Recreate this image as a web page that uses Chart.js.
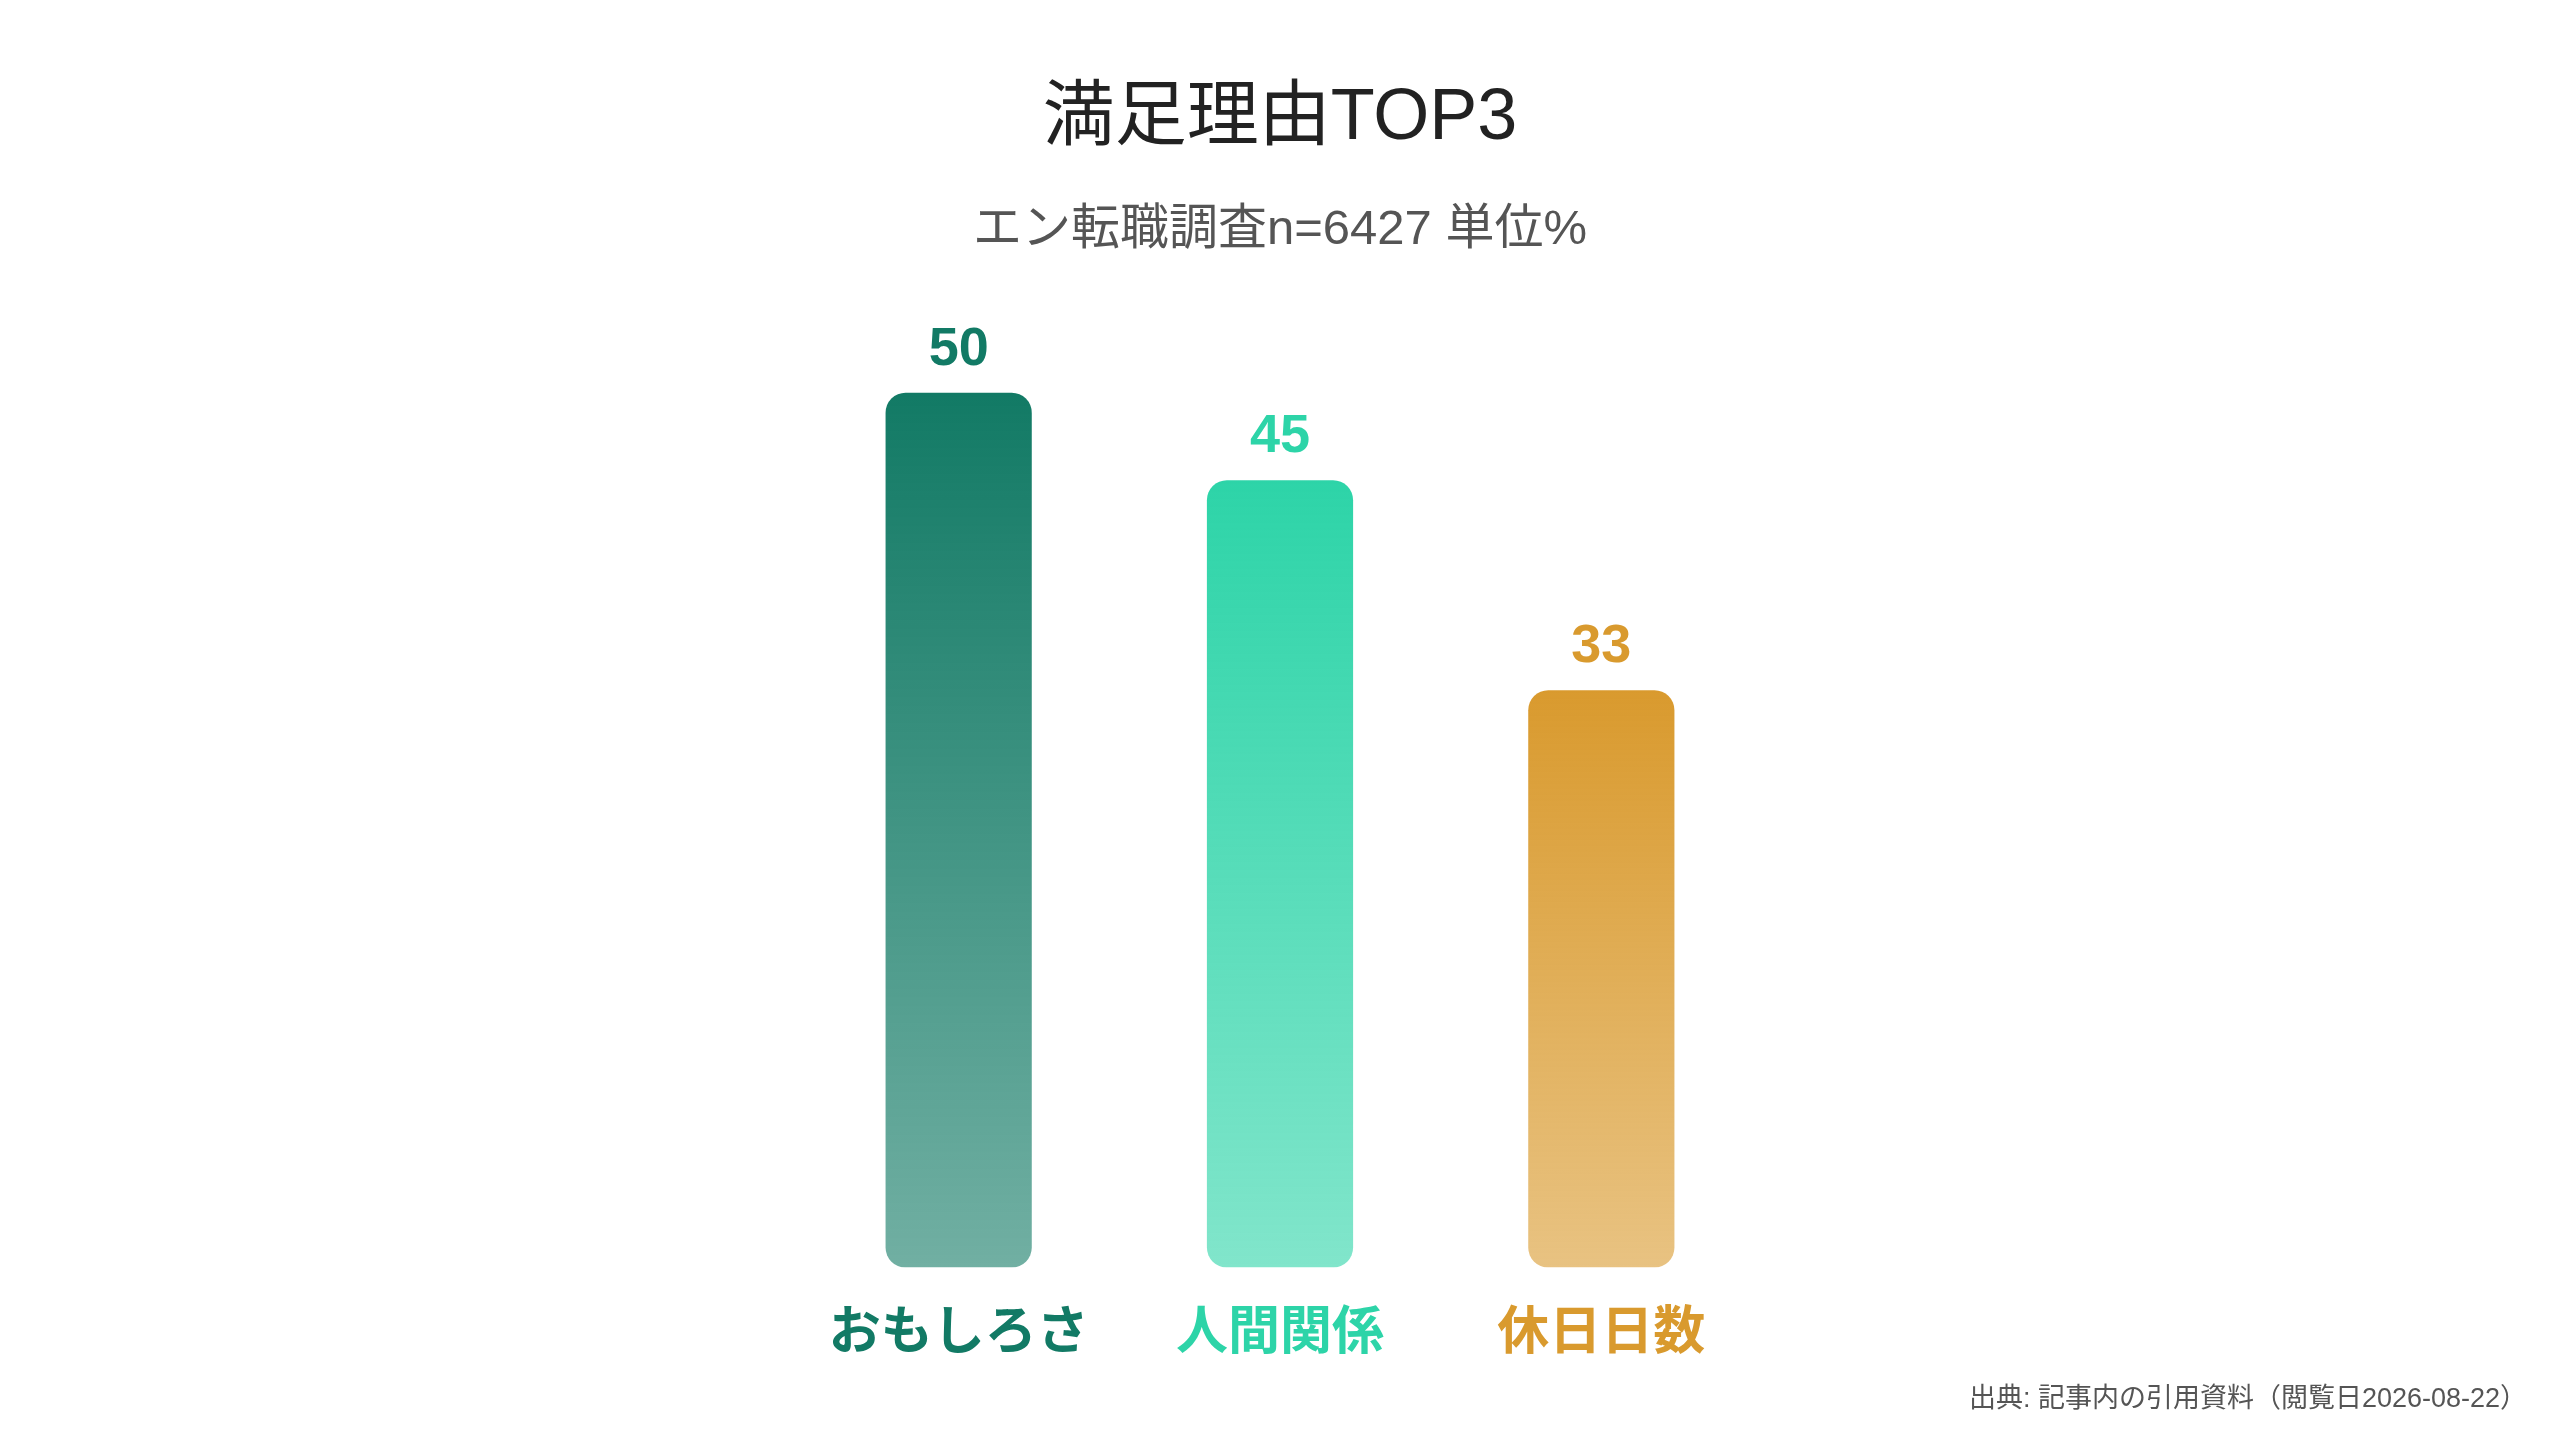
<!DOCTYPE html>
<html lang="ja">
<head>
<meta charset="utf-8">
<title>満足理由TOP3</title>
<script src="https://cdn.jsdelivr.net/npm/chart.js@4.4.1/dist/chart.umd.min.js"></script>
<style>
  html, body { margin: 0; padding: 0; background: #ffffff; }
  #wrap { width: 2560px; height: 1440px; position: relative; }
</style>
</head>
<body>
<div id="wrap"><canvas id="chartTop3"></canvas></div>
<script>
// data
const categories = ["おもしろさ", "人間関係", "休日日数"];
const values = [50, 45, 33];
const barColors = ["#127a65", "#2dd4a8", "#d99a2e"];

const titleText = "満足理由TOP3";
const subtitleText = "エン転職調査n=6427 単位%";
const sourceText = "出典: 記事内の引用資料（閲覧日2026-08-22）";

const FONT = "'Liberation Sans', 'Noto Sans CJK JP', sans-serif";

// hex -> rgba
function withAlpha(hex, a) {
  const n = parseInt(hex.slice(1), 16);
  return "rgba(" + (n >> 16) + "," + ((n >> 8) & 255) + "," + (n & 255) + "," + a + ")";
}

// gradient per bar, solid at top, lighter at bottom
function barGradient(ctx) {
  const chart = ctx.chart;
  const color = barColors[ctx.dataIndex];
  if (!chart.chartArea || !chart.scales.y) return color;
  const y = chart.scales.y;
  const top = y.getPixelForValue(values[ctx.dataIndex]);
  const bottom = y.getPixelForValue(0);
  const g = chart.ctx.createLinearGradient(0, top, 0, bottom);
  g.addColorStop(0, color);
  g.addColorStop(1, withAlpha(color, 0.6));
  return g;
}

// value labels over bars + source note
const labelPlugin = {
  id: "labelPlugin",
  afterDatasetsDraw(chart) {
    const ctx = chart.ctx;
    const meta = chart.getDatasetMeta(0);
    ctx.save();
    ctx.font = "bold 54px " + FONT;
    ctx.textAlign = "center";
    ctx.textBaseline = "alphabetic";
    meta.data.forEach((bar, i) => {
      ctx.fillStyle = barColors[i];
      ctx.fillText(String(values[i]), bar.x, bar.y - 28);
    });
    ctx.restore();
  },
  afterDraw(chart) {
    const ctx = chart.ctx;
    ctx.save();
    ctx.font = "27px " + FONT;
    ctx.fillStyle = "#555555";
    ctx.textAlign = "right";
    ctx.textBaseline = "middle";
    ctx.fillText(sourceText, 2527, 1400);
    ctx.restore();
  }
};

new Chart(document.getElementById("chartTop3"), {
  type: "bar",
  data: {
    labels: categories,
    datasets: [
      {
        data: values,
        backgroundColor: barGradient,
        borderRadius: 20,
        borderSkipped: false,
        categoryPercentage: 1,
        barPercentage: 0.455,
      },
    ],
  },
  options: {
    responsive: true,
    maintainAspectRatio: false,
    animation: false,
    devicePixelRatio: 1,
    layout: { padding: { left: 798, right: 798, top: 0, bottom: 38 } },
    plugins: {
      legend: { display: false },
      tooltip: { enabled: false },
      title: {
        display: true,
        text: titleText,
        color: "#222222",
        font: { family: FONT, size: 72, weight: "normal" },
        padding: { top: 76, bottom: 20 },
      },
      subtitle: {
        display: true,
        text: subtitleText,
        color: "#555555",
        font: { family: FONT, size: 49, weight: "normal" },
        padding: { top: 19, bottom: 45 },
      },
    },
    scales: {
      x: {
        grid: { display: false, drawTicks: false },
        border: { display: false },
        ticks: {
          padding: 36,
          color: (c) => barColors[c.index],
          font: { family: FONT, size: 52, weight: "bold" },
        },
      },
      y: {
        display: false,
        min: 0,
        max: 55,
      },
    },
  },
  plugins: [labelPlugin],
});
</script>
</body>
</html>
